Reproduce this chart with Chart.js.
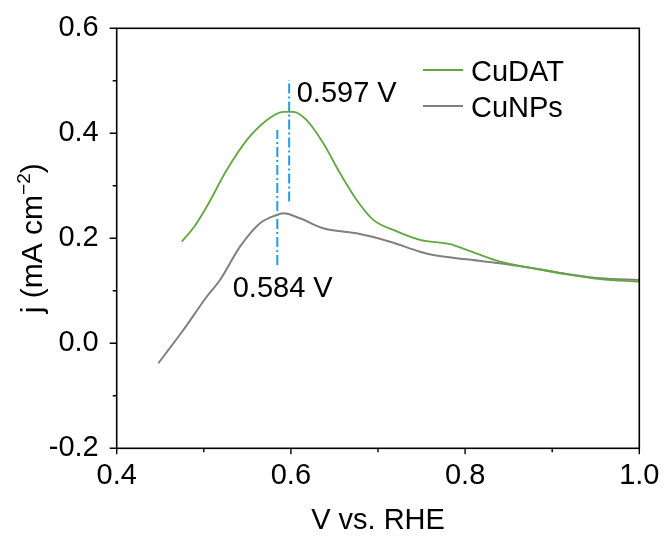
<!DOCTYPE html>
<html>
<head>
<meta charset="utf-8">
<script src="https://cdn.jsdelivr.net/npm/chart.js@4.4.1/dist/chart.umd.min.js"></script>
<style>
  html, body { margin: 0; padding: 0; background: #fff; }
  #wrap { width: 665px; height: 538px; }
</style>
</head>
<body>
<div id="wrap"><canvas id="chart" width="665" height="538"></canvas></div>
<script>
// values
const cudatV = [0.4746, 0.4890, 0.5033, 0.5263, 0.5493, 0.5722, 0.5913, 0.6028, 0.6181, 0.6372, 0.6564, 0.6755, 0.6946, 0.7176, 0.7482, 0.7827, 0.8018, 0.8401, 0.8783, 0.9166, 0.9549, 1.0];
const cudatJ = [0.1935, 0.222, 0.260, 0.330, 0.387, 0.425, 0.441, 0.441, 0.425, 0.381, 0.324, 0.273, 0.235, 0.216, 0.197, 0.189, 0.178, 0.1554, 0.1429, 0.1314, 0.1225, 0.1173];

const cunpsV = [0.4478, 0.4765, 0.5033, 0.5186, 0.5416, 0.5645, 0.5837, 0.5913, 0.6104, 0.6372, 0.6755, 0.7138, 0.7482, 0.7635, 0.8018, 0.8401, 0.8783, 0.9166, 0.9549, 1.0];
const cunpsJ = [-0.038, 0.0253, 0.0887, 0.1206, 0.184, 0.2286, 0.2444, 0.2476, 0.2381, 0.219, 0.2095, 0.1935, 0.1745, 0.1682, 0.160, 0.1524, 0.1429, 0.132, 0.1238, 0.1206];

// peak markers (dash-dot lines) and their labels
const peakV = [0.598, 0.5844];
const peakLow = [0.270, 0.149];
const peakHigh = [0.5015, 0.4063];
const peakText = ['0.597 V', '0.584 V'];
const peakTextAt = [[0.6067, 0.4602], [0.5332, 0.0887]];

const seriesNames = ['CuDAT', 'CuNPs'];
const seriesColors = ['#62A83F', '#808080'];
const markColor = '#1E9FE3';

const xTicks = [0.4, 0.6, 0.8, 1.0];
const yTicks = [-0.2, 0.0, 0.2, 0.4, 0.6];

const FONT = '"Liberation Sans", Arial, sans-serif';
const FS = 29;

function pairs(xs, ys) {
  return xs.map((x, i) => ({ x: x, y: ys[i] }));
}

const datasets = [
  {
    label: seriesNames[0],
    data: pairs(cudatV, cudatJ),
    borderColor: seriesColors[0],
    borderWidth: 1.8,
    cubicInterpolationMode: 'monotone',
    pointRadius: 0,
  },
  {
    label: seriesNames[1],
    data: pairs(cunpsV, cunpsJ),
    borderColor: seriesColors[1],
    borderWidth: 2,
    cubicInterpolationMode: 'monotone',
    pointRadius: 0,
  },
];

peakV.forEach((v, i) => {
  datasets.push({
    label: 'peak ' + peakText[i],
    data: [{ x: v, y: peakLow[i] }, { x: v, y: peakHigh[i] }],
    borderColor: markColor,
    borderWidth: 2,
    borderDash: [10, 3, 2, 3],
    pointRadius: 0,
  });
});

const isMajor = (v) => Math.abs(Math.round(v * 10)) % 2 === 0;

// frame, tick marks, y title, legend and peak labels
const decor = {
  id: 'decor',
  afterDraw(chart) {
    const ctx = chart.ctx;
    const a = chart.chartArea;
    const xs = chart.scales.x;
    const ys = chart.scales.y;
    ctx.save();
    ctx.strokeStyle = '#000';
    ctx.lineWidth = 1.6;
    ctx.strokeRect(a.left, a.top, a.right - a.left, a.bottom - a.top);

    ctx.lineWidth = 1.4;
    ctx.beginPath();
    xs.ticks.forEach((t) => {
      const px = xs.getPixelForValue(t.value);
      const len = isMajor(t.value) ? 6 : 4;
      ctx.moveTo(px, a.bottom);
      ctx.lineTo(px, a.bottom + len);
    });
    ys.ticks.forEach((t) => {
      const py = ys.getPixelForValue(t.value);
      const len = isMajor(t.value) ? 7 : 4;
      ctx.moveTo(a.left, py);
      ctx.lineTo(a.left - len, py);
    });
    ctx.stroke();

    // y axis title with superscript
    ctx.fillStyle = '#000';
    ctx.textBaseline = 'alphabetic';
    ctx.textAlign = 'left';
    const big = '30px ' + FONT;
    const small = '19px ' + FONT;
    const parts = [['j (mA cm', big, 0], ['\u22122', small, -12], [')', big, 0]];
    let total = 0;
    parts.forEach((p) => { ctx.font = p[1]; total += ctx.measureText(p[0]).width; });
    ctx.translate(42, (a.top + a.bottom) / 2);
    ctx.rotate(-Math.PI / 2);
    let cx = -total / 2;
    parts.forEach((p) => {
      ctx.font = p[1];
      ctx.fillText(p[0], cx, p[2]);
      cx += ctx.measureText(p[0]).width;
    });
    ctx.setTransform(1, 0, 0, 1, 0, 0);

    // legend inside the plot
    ctx.font = FS + 'px ' + FONT;
    seriesNames.forEach((name, i) => {
      const ly = 70 + i * 36;
      ctx.strokeStyle = seriesColors[i];
      ctx.lineWidth = 2;
      ctx.beginPath();
      ctx.moveTo(423, ly);
      ctx.lineTo(463, ly);
      ctx.stroke();
      ctx.fillStyle = '#000';
      ctx.fillText(name, 471, ly + 10.7);
    });

    // peak labels
    peakText.forEach((txt, i) => {
      const px = xs.getPixelForValue(peakTextAt[i][0]);
      const py = ys.getPixelForValue(peakTextAt[i][1]);
      ctx.fillText(txt, px, py);
    });
    ctx.restore();
  },
};

new Chart(document.getElementById('chart'), {
  type: 'line',
  data: { datasets: datasets },
  options: {
    responsive: false,
    animation: false,
    layout: { padding: { top: 28.3, right: 25.7, left: 0, bottom: 0 } },
    plugins: {
      legend: { display: false },
      tooltip: { enabled: false },
    },
    scales: {
      x: {
        type: 'linear',
        min: 0.4,
        max: 1.0,
        afterFit: (s) => { s.height = 89.7; s.paddingLeft = 0; s.paddingRight = 0; },
        afterBuildTicks: (s) => { s.ticks = [0.4, 0.5, 0.6, 0.7, 0.8, 0.9, 1.0].map((v) => ({ value: v })); },
        grid: { display: true, drawOnChartArea: false, drawTicks: false },
        border: { display: false },
        ticks: {
          padding: 10,
          color: '#000',
          font: { family: FONT, size: FS },
          maxRotation: 0,
          autoSkip: false,
          callback: (v) => (xTicks.some((t) => Math.abs(t - v) < 1e-6) ? v.toFixed(1) : ''),
        },
        title: {
          display: true,
          text: 'V vs. RHE',
          color: '#000',
          font: { family: FONT, size: FS },
          padding: { top: 0, bottom: 0 },
        },
      },
      y: {
        min: -0.2,
        max: 0.6,
        afterFit: (s) => { s.width = 116.7; s.paddingTop = 0; s.paddingBottom = 0; },
        afterBuildTicks: (s) => { s.ticks = [-0.2, -0.1, 0.0, 0.1, 0.2, 0.3, 0.4, 0.5, 0.6].map((v) => ({ value: v })); },
        grid: { display: true, drawOnChartArea: false, drawTicks: false },
        border: { display: false },
        ticks: {
          padding: 18,
          color: '#000',
          font: { family: FONT, size: FS },
          autoSkip: false,
          callback: (v) => (yTicks.some((t) => Math.abs(t - v) < 1e-6) ? v.toFixed(1) : ''),
        },
      },
    },
  },
  plugins: [decor],
});
</script>
</body>
</html>
